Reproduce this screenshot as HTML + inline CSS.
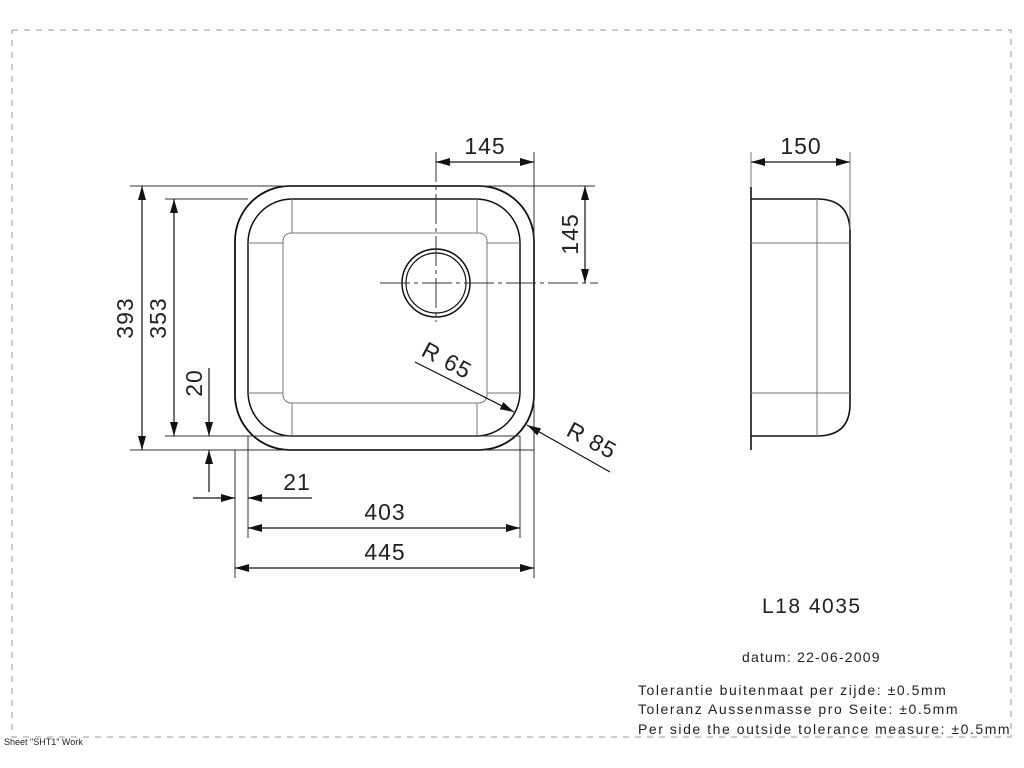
<!DOCTYPE html>
<html><head><meta charset="utf-8"><style>
html,body{margin:0;padding:0;background:#fff;}
svg{display:block;}
text{font-family:"Liberation Sans",sans-serif;fill:#222;}
</style></head><body>
<svg width="1024" height="768" viewBox="0 0 1024 768" xmlns="http://www.w3.org/2000/svg">
<defs>
<marker id="a" viewBox="0 0 14 8" refX="14" refY="4" markerWidth="14" markerHeight="8" markerUnits="userSpaceOnUse" orient="auto-start-reverse"><path d="M0,0 L14,4 L0,8 Z" fill="#111"/></marker>
</defs>
<path d="M12,30 H1011 V737 H12 V30" fill="none" stroke="#999" stroke-width="1" stroke-dasharray="6,6"/>
<g fill="none" stroke="#111">
<rect x="235" y="186" width="299" height="264" rx="55" ry="55" stroke-width="1.8"/>
<rect x="248" y="199" width="272" height="237" rx="44" ry="44" stroke-width="1.5"/>
</g>
<g fill="none" stroke="#777" stroke-width="1">
<rect x="283" y="233" width="204" height="170" rx="8" ry="8"/>
<line x1="292" y1="199" x2="292" y2="233"/><line x1="477" y1="199" x2="477" y2="233"/>
<line x1="292" y1="403" x2="292" y2="436"/><line x1="477" y1="403" x2="477" y2="436"/>
<line x1="248" y1="243" x2="283" y2="243"/><line x1="487" y1="243" x2="520" y2="243"/>
<line x1="248" y1="393" x2="283" y2="393"/><line x1="487" y1="393" x2="520" y2="393"/>
</g>
<circle cx="436" cy="283" r="34" fill="none" stroke="#111" stroke-width="1.5"/>
<circle cx="436" cy="283" r="30" fill="none" stroke="#111" stroke-width="1.2"/>
<g stroke="#333" stroke-width="1" fill="none">
<line x1="436" y1="152" x2="436" y2="322" stroke-dasharray="30,4,4,4"/>
<line x1="380" y1="283" x2="598" y2="283" stroke-dasharray="30,4,4,4"/>
<line x1="534" y1="152" x2="534" y2="578"/>
<line x1="130" y1="186" x2="595" y2="186"/>
<line x1="130" y1="450" x2="534" y2="450"/>
<line x1="165" y1="199" x2="248" y2="199"/>
<line x1="165" y1="436" x2="520" y2="436"/>
<line x1="235" y1="450" x2="235" y2="578"/>
<line x1="248" y1="436" x2="248" y2="538"/>
<line x1="520" y1="436" x2="520" y2="538"/>
</g>
<g stroke="#111" stroke-width="1.2" fill="none">
<line x1="436" y1="162" x2="534" y2="162" marker-start="url(#a)" marker-end="url(#a)"/>
<line x1="585" y1="186" x2="585" y2="283" marker-start="url(#a)" marker-end="url(#a)"/>
<line x1="142" y1="186" x2="142" y2="450" marker-start="url(#a)" marker-end="url(#a)"/>
<line x1="174" y1="199" x2="174" y2="436" marker-start="url(#a)" marker-end="url(#a)"/>
<line x1="209" y1="368" x2="209" y2="436" marker-end="url(#a)"/>
<line x1="209" y1="492" x2="209" y2="450" marker-end="url(#a)"/>
<line x1="193" y1="498" x2="235" y2="498" marker-end="url(#a)"/>
<line x1="312" y1="498" x2="248" y2="498" marker-end="url(#a)"/>
<line x1="248" y1="528" x2="520" y2="528" marker-start="url(#a)" marker-end="url(#a)"/>
<line x1="235" y1="568" x2="534" y2="568" marker-start="url(#a)" marker-end="url(#a)"/>
<line x1="415" y1="362" x2="514" y2="412" marker-end="url(#a)"/>
<line x1="610" y1="472" x2="527" y2="425" marker-end="url(#a)"/>
<line x1="751" y1="162" x2="850" y2="162" marker-start="url(#a)" marker-end="url(#a)"/>
</g>
<g fill="none">
<line x1="751" y1="187" x2="751" y2="450" stroke="#111" stroke-width="1.6"/>
<path d="M751,199 H817 Q850,199 850,232 V404 Q850,436 817,436 H751" stroke="#111" stroke-width="1.6"/>
<g stroke="#777" stroke-width="1">
<line x1="817" y1="199" x2="817" y2="436"/>
<line x1="751" y1="243" x2="850" y2="243"/>
<line x1="751" y1="393" x2="850" y2="393"/>
<line x1="751" y1="152" x2="751" y2="187"/>
<line x1="850" y1="152" x2="850" y2="230"/>
</g>
</g>
<g font-size="23" letter-spacing="1">
<text x="485" y="154" text-anchor="middle">145</text>
<text x="801" y="154" text-anchor="middle">150</text>
<text transform="translate(578,234) rotate(-90)" text-anchor="middle">145</text>
<text transform="translate(133,318) rotate(-90)" text-anchor="middle">393</text>
<text transform="translate(166,318) rotate(-90)" text-anchor="middle">353</text>
<text transform="translate(202,383) rotate(-90)" text-anchor="middle">20</text>
<text x="297" y="490" text-anchor="middle">21</text>
<text x="385" y="520" text-anchor="middle">403</text>
<text x="385" y="560" text-anchor="middle">445</text>
<text transform="translate(420,355) rotate(28)">R  65</text>
<text transform="translate(565,435) rotate(28)">R  85</text>
</g>
<text x="762" y="613" font-size="21" letter-spacing="1.5">L18 4035</text>
<text x="742" y="662" font-size="14" letter-spacing="1.2">datum: 22-06-2009</text>
<g font-size="14" letter-spacing="1.55">
<text x="638" y="695">Tolerantie buitenmaat per zijde: ±0.5mm</text>
<text x="638" y="714">Toleranz Aussenmasse pro Seite: ±0.5mm</text>
<text x="638" y="734">Per side the outside tolerance measure: ±0.5mm</text>
</g>
<text x="4" y="745" font-size="9">Sheet "SHT1" Work</text>
</svg>
</body></html>
